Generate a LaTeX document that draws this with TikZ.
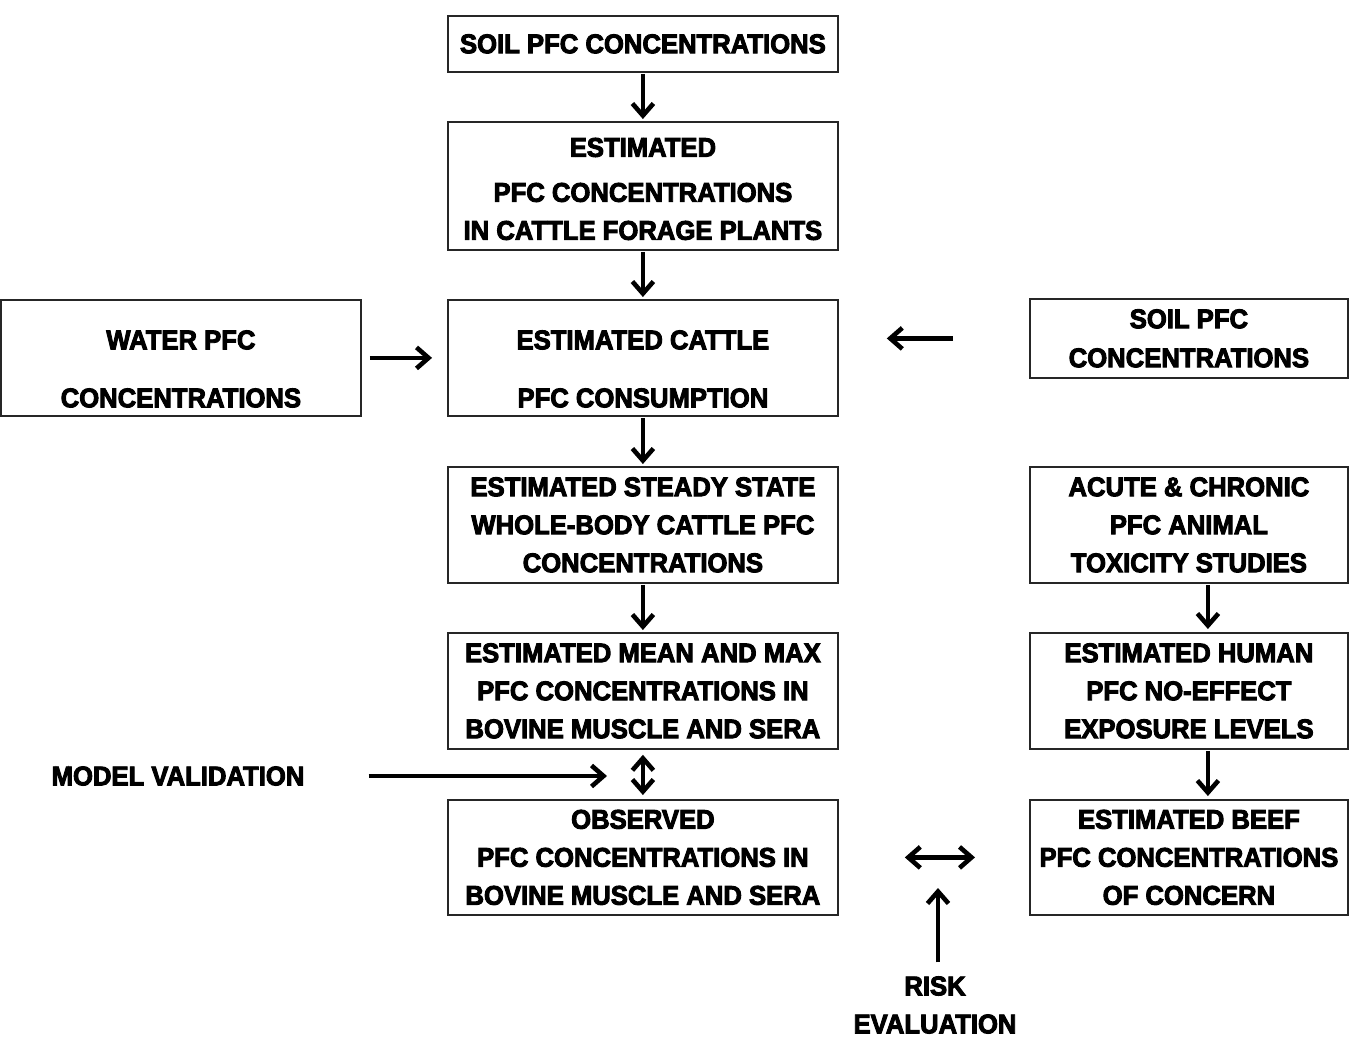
\documentclass[tikz,border=0pt]{standalone}
\usepackage{fontspec}
\setmainfont{Liberation Sans}[FakeStretch=0.95,FakeBold=3.5]
\usetikzlibrary{arrows.meta}
\newcommand\bxfont{\fontsize{27}{38}\selectfont\bfseries}
\tikzset{
  box/.style={draw=black!85, line width=1.8pt, inner sep=0pt, align=center, font=\bxfont, anchor=north west},
  lbl/.style={inner sep=2pt, align=center, font=\bxfont},
  tip/.tip={Straight Barb[length=12pt,width=21pt,line width=4.6pt]},
  arr/.style={line width=4.6pt, -tip},
  darr/.style={line width=4.6pt, tip-tip}
}
\begin{document}
\begin{tikzpicture}[x=1pt,y=-1pt]
\useasboundingbox[fill=white] (0,0) rectangle (1359,1045);
% center column
\node[box, minimum width=390pt, minimum height=56pt] (soil) at (447,15) {SOIL PFC CONCENTRATIONS};
\node[box, minimum width=390pt, minimum height=128pt] (forage) at (447,121) {\rule{0pt}{25pt}ESTIMATED\\[7pt] PFC CONCENTRATIONS\\ IN CATTLE FORAGE PLANTS};
\node[box, minimum width=390pt, minimum height=116pt] (cattle) at (447,299) {\rule{0pt}{41pt}ESTIMATED CATTLE\\[20pt] PFC CONSUMPTION};
\node[box, minimum width=390pt, minimum height=116pt] (steady) at (447,466) {ESTIMATED STEADY STATE\\ WHOLE-BODY CATTLE PFC\\ CONCENTRATIONS};
\node[box, minimum width=390pt, minimum height=116pt] (mean) at (447,632) {ESTIMATED MEAN AND MAX\\ PFC CONCENTRATIONS IN\\ BOVINE MUSCLE AND SERA};
\node[box, minimum width=390pt, minimum height=115pt] (obs) at (447,799) {OBSERVED\\ PFC CONCENTRATIONS IN\\ BOVINE MUSCLE AND SERA};
% left
\node[box, minimum width=360pt, minimum height=116pt] (water) at (0,299) {\rule{0pt}{41pt}WATER PFC\\[20pt] CONCENTRATIONS};
\node[lbl] (mv) at (178,776) {MODEL VALIDATION};
% right column
\node[box, minimum width=318pt, minimum height=79pt] (soilR) at (1029,298) {SOIL PFC\\[1pt] CONCENTRATIONS};
\node[box, minimum width=318pt, minimum height=116pt] (acute) at (1029,466) {ACUTE \& CHRONIC\\ PFC ANIMAL\\ TOXICITY STUDIES};
\node[box, minimum width=318pt, minimum height=116pt] (human) at (1029,632) {ESTIMATED HUMAN\\ PFC NO-EFFECT\\ EXPOSURE LEVELS};
\node[box, minimum width=318pt, minimum height=115pt] (beef) at (1029,799) {ESTIMATED BEEF\\ PFC CONCENTRATIONS\\ OF CONCERN};
\node[lbl] (risk) at (935,1005) {RISK\\ EVALUATION};
\coordinate (mvend) at (607,775);
\coordinate (riskend) at (938,888);
% arrows
\draw[arr, shorten <=1pt, shorten >=2pt] (soil) -- (forage);
\draw[arr, shorten <=1pt, shorten >=2pt] (forage) -- (cattle);
\draw[arr, shorten <=1pt, shorten >=2pt] (cattle) -- (steady);
\draw[arr, shorten <=1pt, shorten >=2pt] (steady) -- (mean);
\draw[darr, shorten <=5pt, shorten >=4pt] (mean) -- (obs);
\draw[arr, shorten <=8pt, shorten >=15pt] (water) -- (cattle);
\draw[arr, shorten <=76pt, shorten >=48pt] (soilR.west) -- (soilR.west -| cattle.east);
\draw[arr, shorten <=1pt, shorten >=3pt] ([xshift=19pt]acute.south) -- ([xshift=19pt]human.north);
\draw[arr, shorten <=1pt, shorten >=3pt] ([xshift=19pt]human.south) -- ([xshift=19pt]beef.north);
\draw[arr, shorten <=62pt] (mv.east) -- (mv.east -| mvend);
\draw[darr, shorten <=66pt, shorten >=54pt] (obs.east) -- (beef.west);
\draw[arr, shorten <=12pt] (risk.north -| riskend) -- (riskend);
\end{tikzpicture}
\end{document}
